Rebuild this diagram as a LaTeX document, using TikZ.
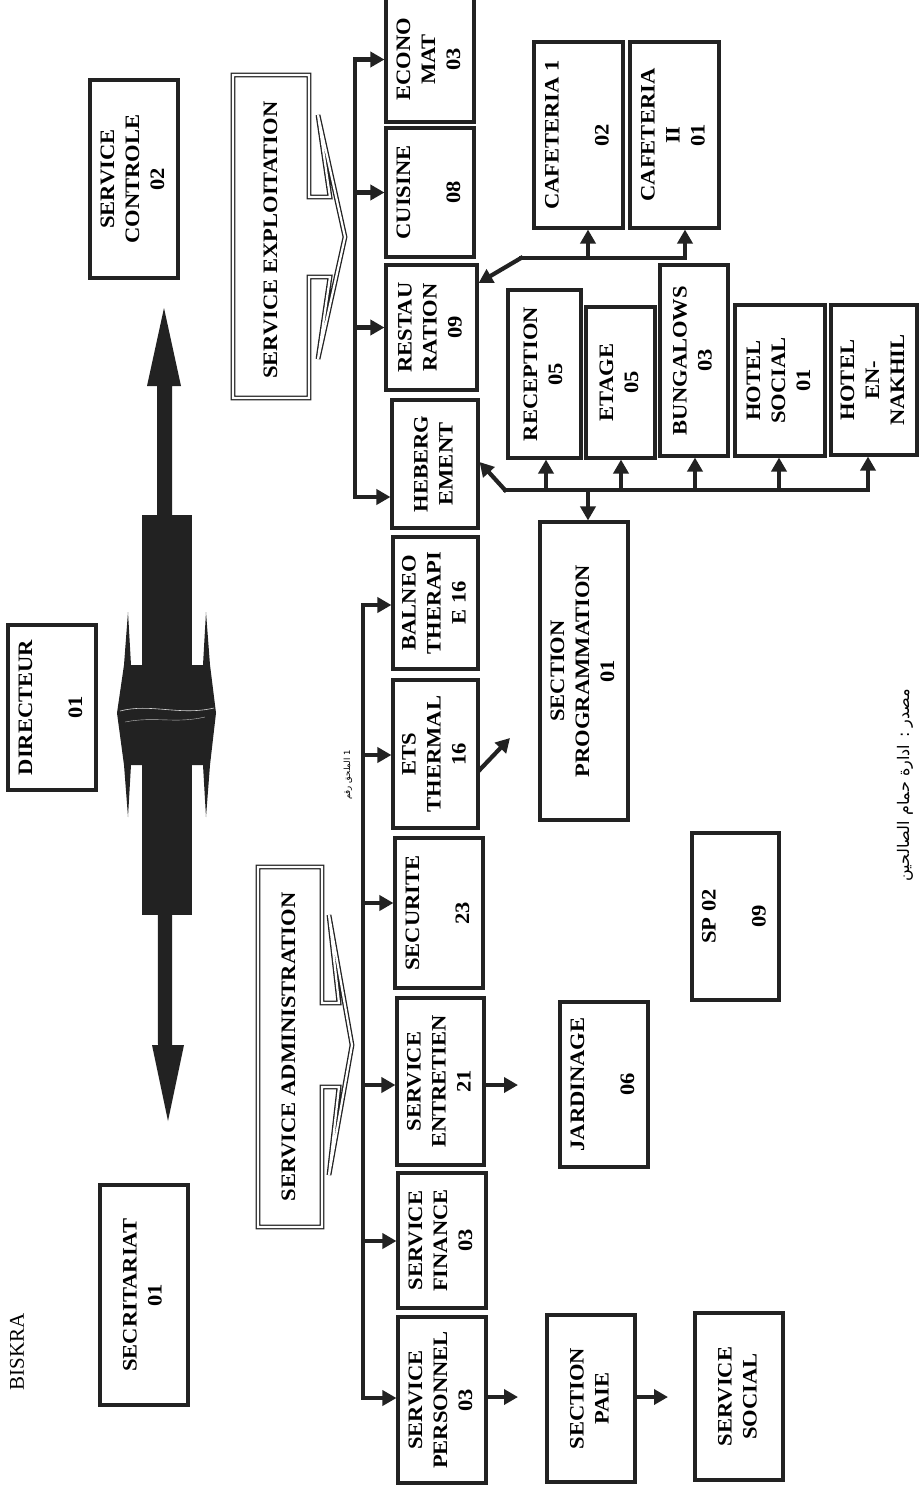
\documentclass[tikz,border=0pt]{standalone}
\usepackage{graphicx}
\usepackage{fontspec}
\setmainfont{Liberation Serif}
\newfontfamily\arabicfont[Script=Arabic]{DejaVu Sans}
\TeXXeTstate=1
\usetikzlibrary{arrows.meta}
\definecolor{ink}{RGB}{34,34,34}
\newcommand{\vtext}[1]{\rotatebox{90}{\scalebox{1.1}[1]{\begin{tabular}{@{}c@{}}#1\end{tabular}}}}

\begin{document}
\begin{tikzpicture}[
    x=1pt, y=-1pt,
    box/.style 2 args={rectangle, draw=ink, line width=3.1pt, fill=white, inner sep=0pt,
                       minimum width=#1, minimum height=#2,
                       font=\fontsize{20.5}{25}\selectfont\bfseries},
    conn/.style={draw=ink, line width=4.2pt, line cap=rect},
    arr/.style={conn, -{Triangle[length=14pt,width=15pt]}},
    banner/.style={draw=ink, line width=1.3pt, double, double distance=2.2pt, fill=white},
    dark/.style={fill=ink},
]
\useasboundingbox (0,0) rectangle (919,1492);
\fill[white] (0,0) rectangle (919,1492);

% Direction
\node[box={88pt}{198pt}] (ctrl) at (134,179) {\vtext{SERVICE\\CONTROLE\\02}};
\node[box={88pt}{165pt}] (dir) at (52,707.5) {\vtext{DIRECTEUR\\ \\01}};
\node[box={88pt}{220pt}] (secr) at (144,1295) {\vtext{SECRITARIAT\\01}};
\node[rotate=90, font=\fontsize{21}{24}\selectfont] (city) at (17,1352) {BISKRA};

% Double arrow
\fill[dark] (164,308) -- (181,386) -- (172,386) -- (172,1045) -- (184,1045) -- (168,1121)
    -- (152,1045) -- (158,1045) -- (157,386) -- (147,386) -- cycle;
\fill[dark] (142,515) rectangle (192,915);
\fill[dark] (128,612) -- (131,665) -- (142,665) -- (142,765) -- (131,765) -- (128,817)
    -- (124,765) -- (117,713) -- (124,665) -- cycle;
\fill[dark] (206,612) -- (203,665) -- (192,665) -- (192,765) -- (203,765) -- (206,817)
    -- (210,765) -- (216,713) -- (210,665) -- cycle;
\draw[white!80!ink, line width=.6pt] (120,711) .. controls (150,703) and (180,716) .. (214,708);
\draw[white!70!ink, line width=.4pt] (125,722) .. controls (155,716) and (175,724) .. (205,717);

% Banners
\draw[banner] (233,75) -- (309,75) -- (309,197) -- (330,197) -- (318,115) -- (345,237)
    -- (318,359) -- (330,277) -- (309,277) -- (309,398) -- (233,398) -- cycle;
\node[font=\fontsize{20.5}{25}\selectfont\bfseries] (expl) at (272,240) {\vtext{SERVICE EXPLOITATION}};
\draw[banner] (258,867) -- (322,867) -- (322,1003) -- (339,1003) -- (329,915) -- (352,1045)
    -- (329,1175) -- (339,1087) -- (322,1087) -- (322,1227) -- (258,1227) -- cycle;
\node[font=\fontsize{20.5}{25}\selectfont\bfseries] (adm) at (290,1047) {\vtext{SERVICE ADMINISTRATION}};

% Exploitation services
\node[box={88pt}{125pt}] (econ) at (430,59.5) {\vtext{ECONO\\MAT\\03}};
\node[box={88pt}{129pt}] (cuis) at (430,192.5) {\vtext{CUISINE\\ \\08}};
\node[box={91pt}{125pt}] (rest) at (431.5,327.5) {\vtext{RESTAU\\RATION\\09}};
\node[box={86pt}{128pt}] (heb) at (435,464) {\vtext{HEBERG\\EMENT\\ }};

% Administration services
\node[box={85pt}{132pt}] (baln) at (435.5,603) {\vtext{BALNEO\\THERAPI\\E 16}};
\node[box={85pt}{148pt}] (ets) at (435.5,754) {\vtext{ETS\\THERMAL\\16}};
\node[box={88pt}{150pt}] (secu) at (439,913) {\vtext{SECURITE\\ \\23}};
\node[box={87pt}{167pt}] (entr) at (440.5,1081.5) {\vtext{SERVICE\\ENTRETIEN\\21}};
\node[box={88pt}{135pt}] (fin) at (442,1240.5) {\vtext{SERVICE\\FINANCE\\03}};
\node[box={88pt}{166pt}] (pers) at (442,1400) {\vtext{SERVICE\\PERSONNEL\\03}};

% Restauration
\node[box={89pt}{186pt}] (caf1) at (578.5,135) {\vtext{CAFETERIA 1\\ \\02}};
\node[box={89pt}{186pt}] (caf2) at (674.5,135) {\vtext{CAFETERIA\\II\\01}};

% Hebergement
\node[box={73pt}{168pt}] (recep) at (544.5,374) {\vtext{RECEPTION\\05}};
\node[box={69pt}{151pt}] (etage) at (620.5,382.5) {\vtext{ETAGE\\05}};
\node[box={68pt}{191pt}] (bung) at (694,360.5) {\vtext{BUNGALOWS\\03}};
\node[box={90pt}{151pt}] (hsoc) at (780,380.5) {\vtext{HOTEL\\SOCIAL\\01}};
\node[box={86pt}{150pt}] (hnak) at (874,380) {\vtext{HOTEL\\EN-\\NAKHIL}};
\node[box={88pt}{298pt}] (prog) at (584,671) {\vtext{SECTION\\PROGRAMMATION\\01}};

% Other sections
\node[box={88pt}{165pt}] (jard) at (604,1084.5) {\vtext{JARDINAGE\\ \\06}};
\node[box={87pt}{167pt}] (sp) at (735.5,916.5) {\vtext{SP 02\\ \\09}};
\node[box={88pt}{167pt}] (paie) at (591,1398.5) {\vtext{SECTION\\PAIE}};
\node[box={88pt}{167pt}] (soc) at (739,1396.5) {\vtext{SERVICE\\SOCIAL}};

% Arabic notes
\node[rotate=90, font=\arabicfont\fontsize{8.5}{9}\selectfont] (annex) at (348,775) {\beginR 1 الملحق رقم\endR};
\node[rotate=90, font=\arabicfont\fontsize{16}{17}\selectfont] (src) at (905,785) {\beginR مصدر : ادارة حمام الصالحين\endR};

% Exploitation branch
\coordinate (xtop) at (355,59.5);
\coordinate (xbot) at (355,497);
\draw[conn] (xtop) -- (xbot);
\foreach \n in {econ,cuis,rest}
  \draw[arr] (xtop |- \n.west) -- (\n.west);
\draw[arr] (xbot) -- (xbot -| heb.west);

% Administration branch
\coordinate (atop) at (363,605);
\coordinate (abot) at (363,1398);
\draw[conn] (atop) -- (abot);
\foreach \n/\y in {baln/605,ets/755,secu/903,entr/1085,fin/1241,pers/1398}
  \draw[arr] (363,\y) -- (\n.west |- 363,\y);

% Restauration bus
\coordinate (rb0) at (521,258);
\coordinate (rb1) at (685,258);
\draw[conn] (rb0) -- (rb1);
\draw[arr] (rb0) -- (rest.east |- 0,283);
\foreach \n/\x in {caf1/588,caf2/685}
  \draw[arr] (\x,258) -- (\n.south -| \x,258);

% Hebergement bus
\coordinate (hb0) at (505,490);
\coordinate (hb1) at (868,490);
\draw[conn] (hb0) -- (hb1);
\draw[arr] (hb0) -- (heb.east |- 0,462);
\foreach \n/\x in {recep/546,etage/621,bung/695,hsoc/779,hnak/868}
  \draw[arr] (\x,490) -- (\n.south -| \x,490);
\draw[arr] (588,490) -- (prog.north -| 588,490);

% Free arrows
\coordinate (etsTo) at (510,738);
\coordinate (entrTo) at (518,1085);
\coordinate (persTo) at (518,1397);
\coordinate (paieTo) at (668,1397);
\draw[arr] (ets.east |- 0,770) -- (etsTo);
\draw[arr] (entr.east |- 0,1085) -- (entrTo);
\draw[arr] (pers.east |- 0,1397) -- (persTo);
\draw[arr] (paie.east |- 0,1397) -- (paieTo);

\end{tikzpicture}
\end{document}
